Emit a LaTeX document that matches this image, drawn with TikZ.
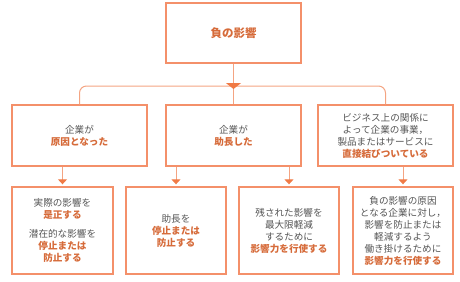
\documentclass[tikz,border=0pt]{standalone}
\usepackage{fontspec}
\newfontfamily\jp{Noto Sans CJK JP}
\usetikzlibrary{arrows.meta}
\definecolor{boxc}{HTML}{F4906A}
\definecolor{linec}{HTML}{F4A482}
\definecolor{tipc}{HTML}{F07A45}
\definecolor{txtg}{HTML}{555555}
\definecolor{txto}{HTML}{D66B3A}
\newcommand{\hl}[1]{{\bfseries\color{txto}#1}}
\tikzset{
  bx/.style={draw=boxc, line width=1.4pt, rectangle, align=center, inner sep=0pt,
    font=\jp\fontsize{9.6}{12}\selectfont, text=txtg},
  ln/.style={draw=linec, line width=1pt},
  arr/.style={ln, -{Triangle[width=9pt,length=5pt,color=tipc]}, shorten >=2pt},
  bigarr/.style={ln, -{Triangle[width=15pt,length=6pt,color=tipc]}}
}
\begin{document}
\begin{tikzpicture}[x=1pt,y=-1pt]
\useasboundingbox (0,0) rectangle (460,281);
\node[bx, minimum width=135pt, minimum height=60pt, font=\jp\fontsize{11.5}{13}\selectfont] (T) at (233.5,33) {\hl{負の影響}};
\node[bx, minimum width=135pt, minimum height=61pt] (A) at (79.5,135.5) {企業が\\\hl{原因となった}};
\node[bx, minimum width=135pt, minimum height=61pt] (B) at (233.5,135.5) {企業が\\\hl{助長した}};
\node[bx, minimum width=135pt, minimum height=61pt] (C) at (385.5,135.5) {ビジネス上の関係に\\よって企業の事業，\\製品またはサービスに\\\hl{直接結びついている}};
\node[bx, minimum width=101pt, minimum height=87pt] (D) at (62.5,230.5) {実際の影響を\\\hl{是正する}\\[7pt]潜在的な影響を\\\hl{停止または}\\\hl{防止する}};
\node[bx, minimum width=100pt, minimum height=87pt] (E) at (176,230.5) {助長を\\\hl{停止または}\\\hl{防止する}};
\node[bx, minimum width=100pt, minimum height=87pt] (F) at (289,230.5) {残された影響を\\最大限軽減\\するために\\\hl{影響力を行使する}};
\node[bx, minimum width=100pt, minimum height=87pt] (G) at (403,230.5) {負の影響の原因\\となる企業に対し，\\影響を防止または\\軽減するよう\\働き掛けるために\\\hl{影響力を行使する}};
\coordinate (bus) at (0,86);
\draw[ln, rounded corners=7pt] (A.north) -- (A.north |- bus) -- (C.north |- bus) -- (C.north);
\draw[ln] (B.north |- bus) -- (B.north);
\draw[bigarr] (T.south) -- ([yshift=-3pt]T.south |- bus);
\draw[arr] (A.south -| D.north) -- (D.north);
\draw[arr] (B.south -| E.north) -- (E.north);
\draw[arr] (B.south -| F.north) -- (F.north);
\draw[arr] (C.south -| G.north) -- (G.north);
\end{tikzpicture}
\end{document}
